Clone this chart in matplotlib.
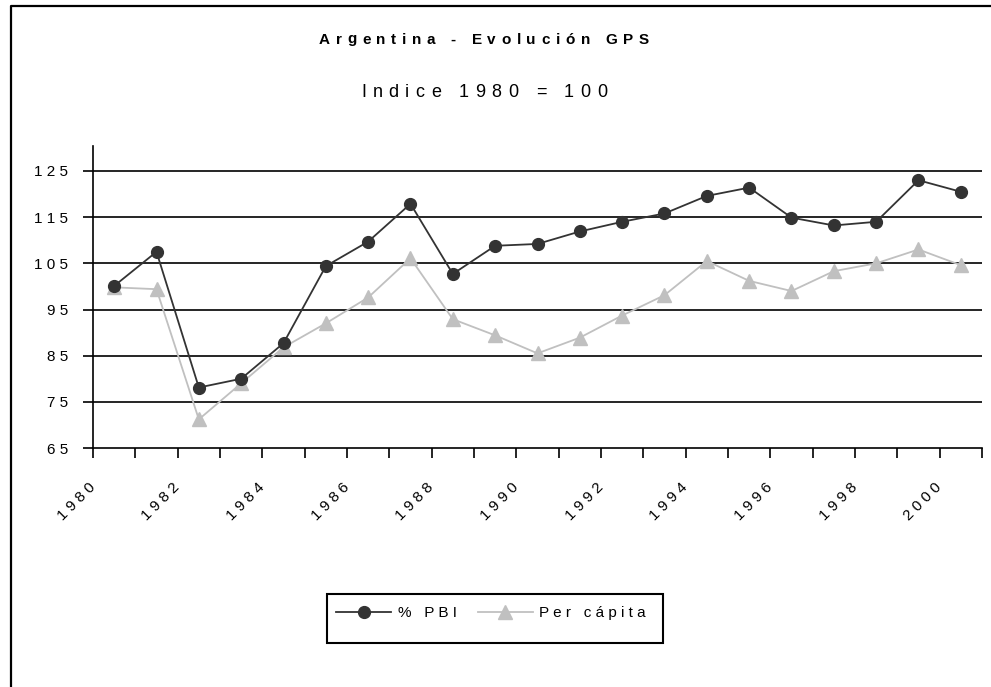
import matplotlib
matplotlib.use("Agg")
import matplotlib.pyplot as plt
from matplotlib.lines import Line2D
from matplotlib.patches import Rectangle
from matplotlib.font_manager import FontProperties

plt.rcParams['font.family'] = ['Liberation Sans', 'DejaVu Sans']

years = list(range(1980, 2001))
pbi = [100.1, 107.5, 78.1, 80.0, 87.7, 104.4, 109.7, 117.9, 102.7, 108.8,
       109.2, 111.9, 114.0, 115.8, 119.6, 121.4, 114.9, 113.2, 114.0, 123.0, 120.5]
per_capita = [99.8, 99.4, 71.2, 79.0, 86.8, 92.0, 97.6, 106.1, 92.9, 89.4,
              85.5, 88.9, 93.7, 98.1, 105.5, 101.2, 99.0, 103.3, 105.0, 108.0, 104.6]
y_ticks = [65, 75, 85, 95, 105, 115, 125]
title = "Argentina - Evolución GPS"
subtitle = "Indice 1980 = 100"
series_names = ["% PBI", "Per cápita"]

W, H = 991, 687
DPI = 100


def spaced(s, sep=" "):
    return sep.join(list(s))


def tracked_text(fig, cx_px, cy_px, s, width_px, size, weight='normal'):
    """Draw s centred at cx_px (baseline cy_px) with letter spacing spanning width_px."""
    renderer = fig.canvas.get_renderer()
    prop = FontProperties(family='Liberation Sans', weight=weight, size=size)

    def w(t):
        return renderer.get_text_width_height_descent(t, prop, ismath=False)[0]

    ref = w("||")
    adv = [w("|" + ch + "|") - ref for ch in s]
    base = sum(adv)
    track = (width_px - base) / (len(s) - 1)
    x = cx_px - width_px / 2.0
    for ch, a in zip(s, adv):
        if ch != " ":
            fig.text(x / W, 1 - cy_px / H, ch, ha='left', va='baseline',
                     fontproperties=prop)
        x += a + track


fig = plt.figure(figsize=(W / DPI, H / DPI), dpi=DPI)

ax_left, ax_right = 93, 982
ax_bottom_px, ax_top_px = 448, 146
ax = fig.add_axes([ax_left / W, 1 - ax_bottom_px / H,
                   (ax_right - ax_left) / W, (ax_bottom_px - ax_top_px) / H])

n = len(years)
xs = [i + 0.5 for i in range(n)]
ax.plot(xs, pbi, color='#333333', lw=1.3, marker='o', ms=8.5,
        markeredgecolor='#333333', zorder=4)
ax.plot(xs, per_capita, color='#c0c0c0', lw=1.3, marker='^', ms=10,
        markeredgecolor='#c0c0c0', zorder=3)

ax.set_xlim(0, n)
ymax = 125 + (171 - 146) / ((448 - 171) / 60)
ax.set_ylim(65, ymax)

for v in y_ticks[1:]:
    ax.axhline(v, color='black', lw=1.2, zorder=1)

ax.set_yticks(y_ticks)
ax.set_yticklabels([spaced(str(v)) for v in y_ticks], fontsize=11)
ax.set_xticks(range(n + 1))
xlabels = [spaced(str(years[i])) if (i % 2 == 0 and i < n) else "" for i in range(n + 1)]
ax.set_xticklabels(xlabels, rotation=45, ha='right', va='center',
                   rotation_mode='anchor', fontsize=11)

ax.tick_params(axis='y', direction='out', length=7, width=1.2, pad=11)
ax.tick_params(axis='x', direction='out', length=7, width=1.2, pad=20)

for s in ['top', 'right']:
    ax.spines[s].set_visible(False)
ax.spines['left'].set_linewidth(1.2)
ax.spines['bottom'].set_linewidth(1.2)

tracked_text(fig, 484, 43.5, title, 330, 11, weight='bold')
tracked_text(fig, 484, 97, subtitle, 246, 13)

# legend
handles = [Line2D([], [], color='#333333', lw=1.3, marker='o', ms=8.5),
           Line2D([], [], color='#c0c0c0', lw=1.3, marker='^', ms=10)]
fig.legend(handles, [spaced(s) for s in series_names], loc='center left',
           bbox_to_anchor=(336 / W, 1 - 613 / H), ncol=2, frameon=False,
           fontsize=11, handlelength=3.6, handletextpad=0.45,
           columnspacing=1.35, borderpad=0, borderaxespad=0)
fig.patches.append(Rectangle((327 / W, 1 - 643 / H), (663 - 327) / W, (643 - 594) / H,
                             transform=fig.transFigure, fill=False,
                             edgecolor='black', lw=1.5))

# outer frame (left and top)
fig.add_artist(Line2D([11 / W, 11 / W, 1.0], [0.0, 1 - 6 / H, 1 - 6 / H],
                      transform=fig.transFigure, color='black', lw=1.6))

fig.savefig("out.png", dpi=DPI)
